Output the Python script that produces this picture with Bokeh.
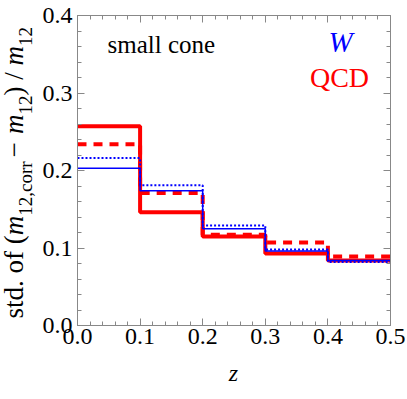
import math
from bokeh.plotting import figure
from bokeh.models import Label, LinearAxis, Range1d, FixedTicker
from bokeh.embed import file_html
from bokeh.resources import INLINE

# bin edges in z
edges = [0.0, 0.1, 0.2, 0.3, 0.4, 0.5]
# std values per bin
qcd_solid = [0.257, 0.146, 0.115, 0.093, 0.084]
qcd_dashed = [0.234, 0.171, 0.117, 0.107, 0.089]
w_solid = [0.203, 0.174, 0.125, 0.096, 0.084]
w_dotted = [0.216, 0.181, 0.129, 0.098, 0.082]

x_ticks = [0.0, 0.1, 0.2, 0.3, 0.4, 0.5]
y_ticks = [0.0, 0.1, 0.2, 0.3, 0.4]

FONT = "Liberation Serif"
AX = "#888888"

W, H = 405, 397
FL, FR, FT, FB = 77, 390, 15, 325  # plot box edges in canvas pixels
X0, X1, Y0, Y1 = 0.0, 0.5, 0.0, 0.4
sx = (X1 - X0) / (FR - FL)
sy = (Y1 - Y0) / (FB - FT)

# the frame covers the whole canvas; the axes are pinned to the box edges
p = figure(width=W, height=H, output_backend="svg", toolbar_location=None,
           x_range=Range1d(X0 - FL * sx, X1 + (W - FR) * sx),
           y_range=Range1d(Y0 - (H - FB) * sy, Y1 + FT * sy),
           min_border=0, min_border_left=0, min_border_right=0,
           min_border_top=0, min_border_bottom=0,
           background_fill_color="white", border_fill_color="white")
p.grid.visible = False
p.outline_line_color = None


def style(ax):
    ax.axis_line_color = AX
    ax.major_tick_line_color = AX
    ax.minor_tick_line_color = AX
    ax.major_tick_in = 7
    ax.major_tick_out = 0
    ax.minor_tick_in = 4
    ax.minor_tick_out = 0
    ax.major_label_text_font = FONT
    ax.major_label_text_font_size = "24px"
    ax.major_label_text_color = "black"
    ax.axis_label_text_font = FONT
    ax.axis_label_text_font_size = "24px"
    ax.axis_label_text_font_style = "normal"
    ax.axis_label_text_color = "black"


xminor = [round(i * 0.02, 2) for i in range(26)]
yminor = [round(i * 0.02, 2) for i in range(21)]

bottom = p.xaxis[0]
left = p.yaxis[0]
bottom.ticker = FixedTicker(ticks=x_ticks, minor_ticks=xminor)
left.ticker = FixedTicker(ticks=y_ticks, minor_ticks=yminor)
bottom.major_label_overrides = {t: f"{t:.1f}" for t in x_ticks}
left.major_label_overrides = {t: f"{t:.1f}" for t in y_ticks}
style(bottom)
style(left)
bottom.fixed_location = Y0
bottom.bounds = (X0, X1)
left.fixed_location = X0
left.bounds = (Y0, Y1)
bottom.major_label_standoff = 3
left.major_label_standoff = 5

top = LinearAxis(ticker=FixedTicker(ticks=x_ticks, minor_ticks=xminor),
                 fixed_location=Y1, bounds=(X0, X1))
right = LinearAxis(ticker=FixedTicker(ticks=y_ticks, minor_ticks=yminor),
                   fixed_location=X1, bounds=(Y0, Y1))
for ax, ticks in ((top, x_ticks), (right, y_ticks)):
    style(ax)
    ax.major_label_overrides = {t: "" for t in ticks}
    ax.major_label_standoff = 0
p.add_layout(top, "above")
p.add_layout(right, "right")


def stepvals(v):
    return list(v) + [v[-1]]


p.step(edges, stepvals(qcd_solid), mode="after", line_color="#ff0000", line_width=4)
p.step(edges, stepvals(qcd_dashed), mode="after", line_color="#ff0000", line_width=4,
       line_dash="9 7")
p.step(edges, stepvals(w_solid), mode="after", line_color="#0000ff", line_width=1.5)
p.step(edges, stepvals(w_dotted), mode="after", line_color="#0000ff", line_width=2,
       line_dash="2 2")


# helpers: canvas pixels -> data coordinates (for placing annotations)
def dx(px):
    return X0 + (px - FL) * sx


def dy(py):
    return Y0 + (FB - py) * sy


p.add_layout(Label(x=dx(107), y=dy(57), text="small cone", text_font=FONT,
                   text_font_size="25px", text_color="black"))
p.add_layout(Label(x=dx(340), y=dy(57), text="W", text_font=FONT, text_font_style="italic",
                   text_font_size="29px", text_color="#0000ff", text_align="center"))
p.add_layout(Label(x=dx(339), y=dy(92), text="QCD", text_font=FONT,
                   text_font_size="28px", text_color="#ff0000", text_align="center"))
# x-axis title
p.add_layout(Label(x=dx(233), y=dy(385), text="z", text_font=FONT, text_font_style="italic",
                   text_font_size="24px", text_color="black", text_align="center"))

# rotated y-axis title built from pieces (italic m, small subscripts)
F, f = 27, 19
pieces = [
    ("std. of (", F, "normal", 3083, 0.0),
    ("m", F, "italic", 722, 0.0),
    ("12,corr", f, "normal", 2860, 0.0),
    ("\u2212", F, "normal", 564, 0.15),
    ("m", F, "italic", 722, 0.15),
    ("12", f, "normal", 1000, 0.0),
    (") / ", F, "normal", 1111, 0.0),
    ("m", F, "italic", 722, 0.0),
    ("12", f, "normal", 1000, 0.0),
]
base_x = 13
pos = 318.0
for txt, size, style_, w1000, gap in pieces:
    pos -= gap * F
    bx = base_x if size == F else base_x + 12
    p.add_layout(Label(x=dx(bx), y=dy(pos), text=txt, text_font=FONT,
                       text_font_style=style_, text_font_size=f"{size}px",
                       text_color="black", angle=math.pi / 2,
                       text_align="left", text_baseline="alphabetic"))
    pos -= w1000 * size / 1000.0
    if txt == "\u2212":
        pos -= gap * F

open("out.html", "w").write(file_html(p, INLINE))
